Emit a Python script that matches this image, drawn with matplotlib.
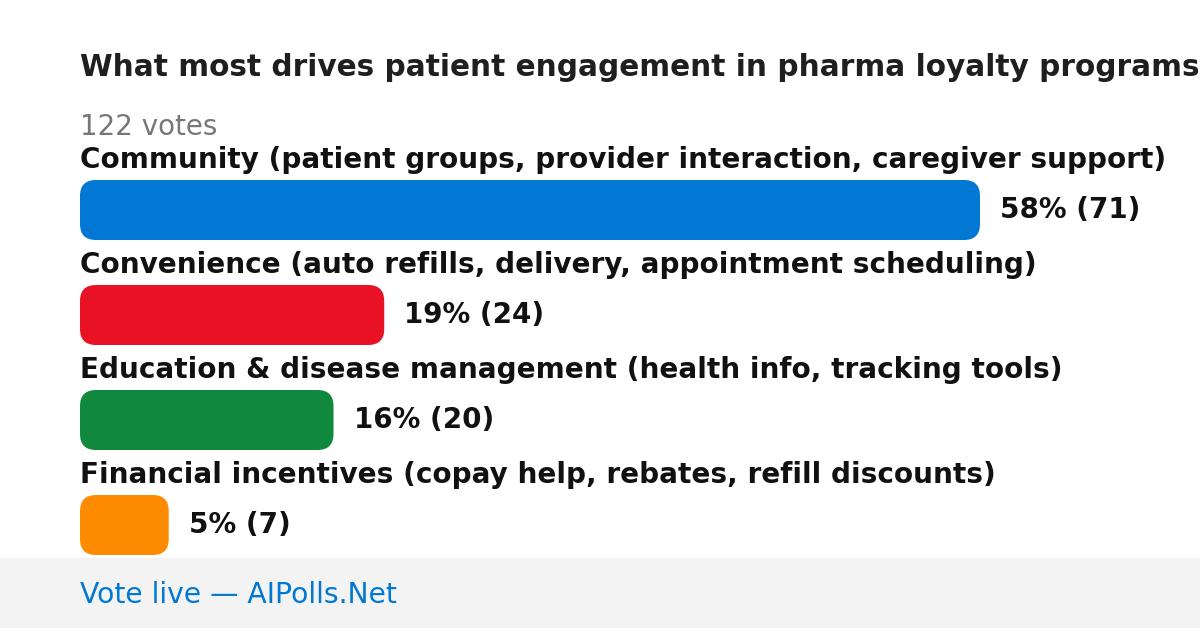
import matplotlib
matplotlib.use("Agg")
import matplotlib.pyplot as plt
from matplotlib.patches import FancyBboxPatch, Rectangle
from matplotlib.transforms import offset_copy

title = "What most drives patient engagement in pharma loyalty programs?"
total_votes = 122
categories = [
    "Community (patient groups, provider interaction, caregiver support)",
    "Convenience (auto refills, delivery, appointment scheduling)",
    "Education & disease management (health info, tracking tools)",
    "Financial incentives (copay help, rebates, refill discounts)",
]
votes = [71, 24, 20, 7]
percents = [58, 19, 16, 5]
colors = ["#0078d4", "#e81224", "#10893e", "#ff8c00"]
footer = "Vote live \u2014 AIPolls.Net"

W, H = 1200, 628
fig = plt.figure(figsize=(W / 100, H / 100), dpi=100)
fig.patch.set_facecolor("white")
plt.rcParams["font.family"] = ["DejaVu Sans"]

# footer band
fig.patches.append(Rectangle((0, 0), 1, 70 / H, transform=fig.transFigure,
                             facecolor="#f3f3f3", edgecolor="none", zorder=0))
fig.text(80 / W, 1 - 595 / H, footer, fontsize=20.3, color="#0078d4",
         ha="left", va="center")

fig.text(80 / W, 1 - 68 / H, title, fontsize=21.3, fontweight="bold",
         color="#1f1f1f", ha="left", va="center")
fig.text(80 / W, 1 - 127 / H, f"{total_votes} votes", fontsize=20,
         color="#777777", ha="left", va="center")

# bar axes: x spans 80..980 px, rows centred at 210 + 105*i
row_px = 105
top = 210 - row_px / 2
n = len(categories)
ax = fig.add_axes([80 / W, 1 - (top + n * row_px) / H, 900 / W, n * row_px / H])
ax.set_xlim(0, max(votes))
ax.set_ylim(n - 0.5, -0.5)
ax.axis("off")
ax.patch.set_alpha(0)

bar_h = 60 / row_px
radius_px = 16
x_per_px = max(votes) / 900
y_per_px = 1 / row_px
for i, (lab, v, p, c) in enumerate(zip(categories, votes, percents, colors)):
    box = FancyBboxPatch((0, i - bar_h / 2), v, bar_h,
                         boxstyle=f"round,pad=0,rounding_size={radius_px * x_per_px}",
                         mutation_aspect=y_per_px / x_per_px,
                         facecolor=c, edgecolor="none")
    ax.add_patch(box)
    ax.text(0, i - 50 / row_px, lab, fontsize=20.1, fontweight="bold",
            color="#111111", ha="left", va="center", clip_on=False)
    tr = offset_copy(ax.transData, fig=fig, x=20, y=0, units="dots")
    ax.text(v, i, f"{p}% ({v})", fontsize=20, fontweight="bold",
            color="#111111", ha="left", va="center", transform=tr, clip_on=False)

fig.savefig("out.png", dpi=100)
